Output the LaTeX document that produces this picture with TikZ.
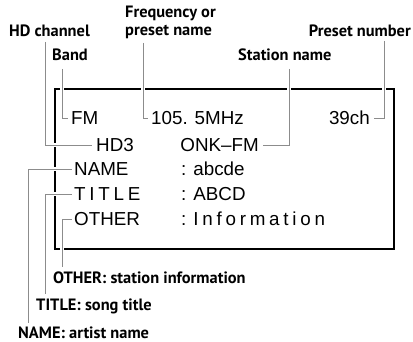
\documentclass[tikz,border=0pt]{standalone}
\usepackage{fontspec}
\setmainfont{Liberation Sans}
\newfontfamily\lblfont{PT Sans}
\newfontfamily\spacedfont{Liberation Sans}[LetterSpace=20]
\definecolor{leadgray}{gray}{0.55}
\tikzset{
  lbl/.style={font=\lblfont\bfseries\fontsize{16.4}{17}\selectfont, inner sep=0pt, anchor=base west},
  disp/.style={font=\fontsize{18.8}{20}\selectfont, inner sep=0pt, anchor=base west, text height=13.4pt, text depth=0pt},
  frameline/.style={draw=black, line width=1.25pt},
  leader/.style={draw=leadgray, line width=1.0pt, preaction={draw=white, line width=3.6pt}},
}
\begin{document}
\begin{tikzpicture}[x=1pt,y=-1pt]
\useasboundingbox (0,0) rectangle (413,342);
% labels
\node[lbl] (freq1) at (125,18) {Frequency or};
\node[lbl] (freq2) at (125,36) {preset name};
\node[lbl] (hdlbl) at (9,37) {HD channel};
\node[lbl, anchor=base east] (prelbl) at (411,37) {Preset number};
\node[lbl] (bandlbl) at (52,61) {Band};
\node[lbl] (stalbl) at (238,61) {Station name};
\node[lbl] (othlbl) at (53,284) {OTHER: station information};
\node[lbl] (titlbl) at (36,311) {TITLE: song title};
\node[lbl] (namlbl) at (18,338) {NAME: artist name};
% display frame
\draw[frameline] (55,89) rectangle (394,249);
% display texts
\node[disp] (fm) at (71,125) {FM};
\node[disp] (freq) at (151,125) {105. 5MHz};
\node[disp, anchor=base east] (ch) at (370,125) {39ch};
\node[disp] (hd3) at (96,152) {HD3};
\node[disp, anchor=base east] (onk) at (259,152) {ONK–FM};
\node[disp] (name) at (74,176) {NAME};
\node[disp] (namev) at (181,176) {: abcde};
\node[disp] (title) at (74,201) {\spacedfont TITLE};
\node[disp] (titlev) at (181,201) {: ABCD};
\node[disp] (other) at (74,226) {OTHER};
\node[disp] (otherv) at (181,226) {: {\spacedfont Information}};
% leader anchor points
\coordinate (bandtop) at (62,69);
\coordinate (freqtop) at (143,43);
\coordinate (hdtop) at (45,42);
\coordinate (pretop) at (384,41);
\coordinate (statop) at (289,69);
\coordinate (othbot) at (62,267);
\coordinate (titbot) at (45,294);
\coordinate (nambot) at (28,323);
% leaders
\draw[leader] (bandtop) |- ([xshift=-3pt]fm.west);
\draw[leader] (freqtop) |- ([xshift=-3pt]freq.west);
\draw[leader] (hdtop) |- ([xshift=-4pt]hd3.west);
\draw[leader] (pretop) |- ([xshift=4pt]ch.east);
\draw[leader] (statop) |- ([xshift=4pt]onk.east);
\draw[leader] (othbot) |- ([xshift=-2pt]other.west);
\draw[leader] (titbot) |- ([xshift=-2pt]title.west);
\draw[leader] (nambot) |- ([xshift=-2pt]name.west);
\end{tikzpicture}
\end{document}
